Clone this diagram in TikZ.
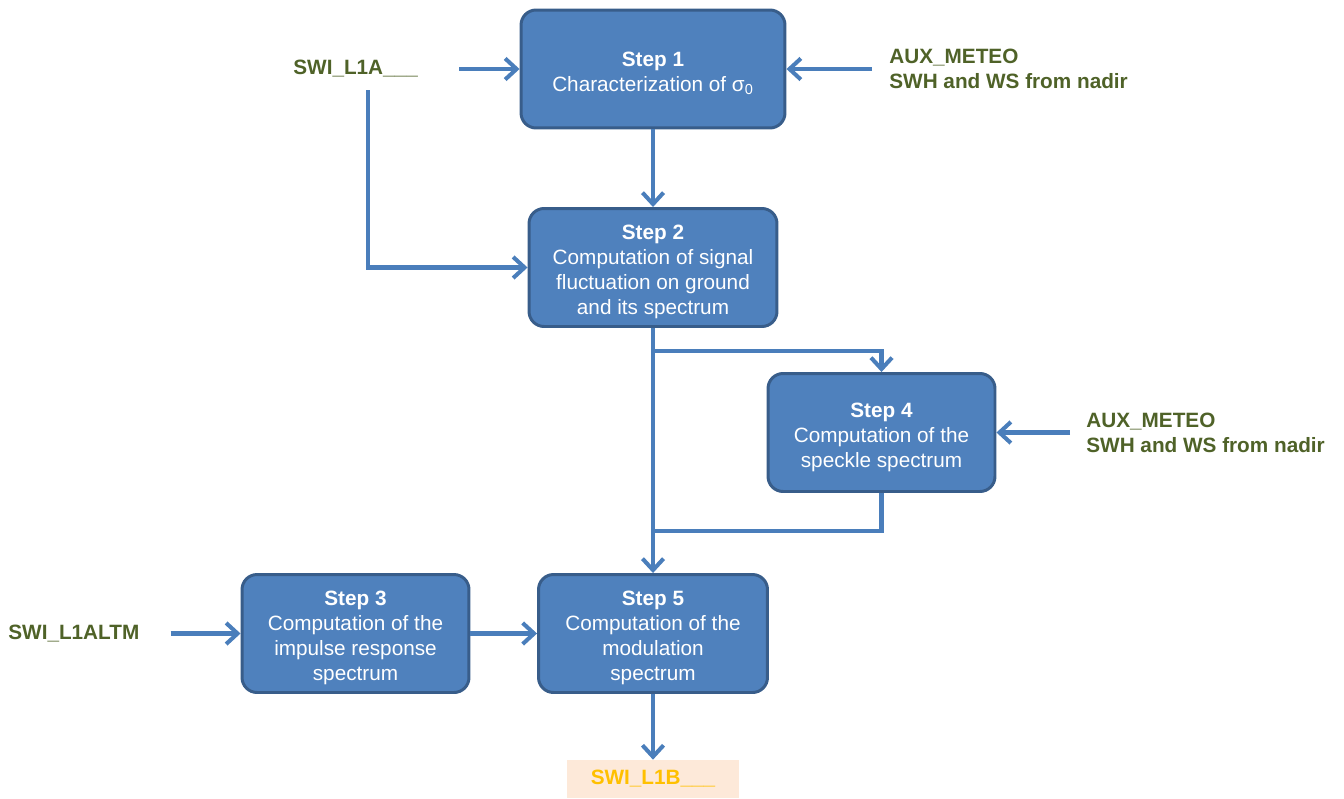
\documentclass[tikz,border=0pt]{standalone}
\usepackage{fontspec}
\setmainfont{Liberation Sans}
\usetikzlibrary{arrows.meta,calc}

\definecolor{boxfill}{HTML}{4F81BD}
\definecolor{boxline}{HTML}{385D8A}
\definecolor{flow}{HTML}{4A7EBB}
\definecolor{datagreen}{HTML}{4F6228}
\definecolor{outfill}{HTML}{FDE9D9}
\definecolor{outtext}{HTML}{FFC000}

% bold step heading, with a little head room
\newcommand{\steptitle}[1]{\rule{0pt}{13.5pt}\textbf{#1}}

\tikzset{
  stepbox/.style={draw=boxline, fill=boxfill, line width=1.7pt, rounded corners=0.3cm,
    text=white, align=center, minimum height=2.36cm, inner sep=0pt,
    font=\fontsize{11.8}{14.2}\selectfont},
  datum/.style={text=datagreen, anchor=west, align=left, inner sep=0pt,
    font=\bfseries\fontsize{11.8}{14.2}\selectfont},
  flowline/.style={draw=flow, line width=2.3pt},
  flowarrow/.style={flowline, -{Straight Barb[length=6.5pt,width=12pt]}}
}

\begin{document}
\begin{tikzpicture}[x=0.02cm, y=-0.02cm]
            \useasboundingbox (0, 0) rectangle (1344, 798);

            % processing steps
            \node[stepbox, minimum width=5.28cm] (step1) at (653, 69) {\steptitle{Step 1}\\Characterization of σ\textsubscript{0}};
            \node[stepbox, minimum width=4.96cm] (step2) at (653, 267.5) {\steptitle{Step 2}\\Computation of signal\\fluctuation on ground\\and its spectrum};
            \node[stepbox, minimum width=4.54cm] (step4) at (881.5, 432.5) {\steptitle{Step 4}\\Computation of the\\speckle spectrum};
            \node[stepbox, minimum width=4.54cm] (step3) at (355.5, 633.5) {\steptitle{Step 3}\\Computation of the\\impulse response\\spectrum};
            \node[stepbox, minimum width=4.58cm] (step5) at (653, 633.5) {\steptitle{Step 5}\\Computation of the\\modulation\\spectrum};

            % inputs and output
            \node[datum] (l1a) at (293, 69) {SWI\_L1A\_\_\_};
            \node[datum] (meteo1) at (889, 69) {AUX\_METEO\\SWH and WS from nadir};
            \node[datum] (meteo2) at (1086, 432.5) {AUX\_METEO\\SWH and WS from nadir};
            \node[datum] (altm) at (8, 633.5) {SWI\_L1ALTM};
            \node[fill=outfill, text=outtext, font=\bfseries\fontsize{11.8}{14.2}\selectfont,
                  minimum width=3.46cm, minimum height=0.76cm, inner sep=0pt] (l1b) at (653, 779) {SWI\_L1B\_\_\_};

            \coordinate (l1afork) at (368, 90);
            \coordinate (fork) at ($(step2.south) + (0, 23)$);
            \coordinate (join) at (653, 531);

            \draw[flowarrow, shorten <=0.82cm] (l1a.east) -- (step1.west);
            \draw[flowarrow] (l1afork) |- (step2.west);
            \draw[flowarrow, shorten <=0.34cm] (meteo1.west) -- (step1.east);
            \draw[flowarrow] (step1.south) -- (step2.north);
            \draw[flowarrow] (fork) -| (step4.north);
            \draw[flowarrow, shorten <=0.32cm] (meteo2.west) -- (step4.east);
            \draw[flowarrow] (step2.south) -- (step5.north);
            \draw[flowline] (step4.south) |- (join);
            \draw[flowarrow, shorten <=0.62cm] (altm.east) -- (step3.west);
            \draw[flowarrow] (step3.east) -- (step5.west);
            \draw[flowarrow] (step5.south) -- (l1b.north);
        \end{tikzpicture}
\end{document}
